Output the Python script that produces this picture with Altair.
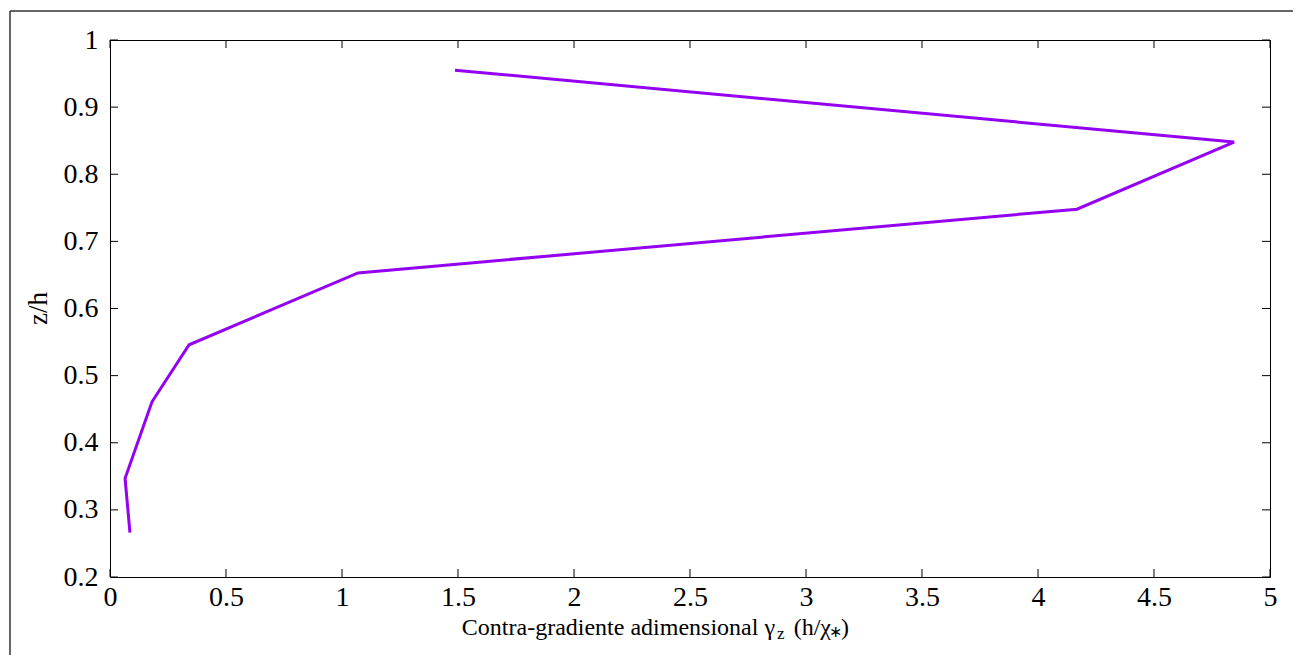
import altair as alt
import pandas as pd

# data
gamma_z = [1.487, 4.845, 4.168, 1.069, 0.341, 0.181, 0.065, 0.086]
z_h = [0.955, 0.848, 0.748, 0.653, 0.546, 0.461, 0.347, 0.266]
x_ticks = [0, 0.5, 1, 1.5, 2, 2.5, 3, 3.5, 4, 4.5, 5]
y_ticks = [0.2, 0.3, 0.4, 0.5, 0.6, 0.7, 0.8, 0.9, 1.0]

W, H = 1160, 537
FONT = "Liberation Serif"
FS = 24
LFS = 28
LINE_COLOR = "#9400F2"

df = pd.DataFrame({"x": gamma_z, "y": z_h, "i": list(range(len(z_h)))})
dfx = pd.DataFrame({"t": x_ticks})
dfy = pd.DataFrame({"t": y_ticks})
one = pd.DataFrame({"a": [0]})

xs = alt.Scale(domain=[0, 5], nice=False, zero=False)
ys = alt.Scale(domain=[0.2, 1.0], nice=False, zero=False)

xaxis = alt.Axis(values=x_ticks, format="~g", ticks=False, domain=False, grid=False,
                 labelFont=FONT, labelFontSize=LFS, labelColor="black", labelPadding=6,
                 labelFlush=False, labelOverlap=False, title=None)
yaxis = alt.Axis(values=y_ticks, format="~g", ticks=False, domain=False, grid=False,
                 labelFont=FONT, labelFontSize=LFS, labelColor="black", labelPadding=12,
                 labelFlush=False, labelOverlap=False, title=None)

line = alt.Chart(df).mark_line(color=LINE_COLOR, strokeWidth=3).encode(
    x=alt.X("x:Q", scale=xs, axis=xaxis),
    y=alt.Y("y:Q", scale=ys, axis=yaxis),
    order="i:O",
)

tk = dict(color="black", strokeWidth=1)
tb = alt.Chart(dfx).mark_rule(**tk).encode(x=alt.X("t:Q", scale=xs), y=alt.value(H), y2=alt.value(H - 8))
tt = alt.Chart(dfx).mark_rule(**tk).encode(x=alt.X("t:Q", scale=xs), y=alt.value(0), y2=alt.value(8))
tl = alt.Chart(dfy).mark_rule(**tk).encode(y=alt.Y("t:Q", scale=ys), x=alt.value(0), x2=alt.value(8))
tr = alt.Chart(dfy).mark_rule(**tk).encode(y=alt.Y("t:Q", scale=ys), x=alt.value(W), x2=alt.value(W - 8))

frame_c = "#333333"
ft = alt.Chart(one).mark_rule(color=frame_c, strokeWidth=1.5).encode(
    x=alt.value(-100), x2=alt.value(1200), y=alt.value(-29))
fl = alt.Chart(one).mark_rule(color=frame_c, strokeWidth=1.5).encode(
    x=alt.value(-100), y=alt.value(-29), y2=alt.value(700))

txt = dict(font=FONT, color="black", baseline="alphabetic")
t_main = alt.Chart(one).mark_text(fontSize=FS, align="right", **txt).encode(
    x=alt.value(665), y=alt.value(595), text=alt.value("Contra-gradiente adimensional γ"))
t_z = alt.Chart(one).mark_text(fontSize=17, align="left", **txt).encode(
    x=alt.value(667), y=alt.value(599), text=alt.value("z"))
t_h = alt.Chart(one).mark_text(fontSize=FS, align="right", **txt).encode(
    x=alt.value(721), y=alt.value(595), text=alt.value("(h/χ"))
t_star = alt.Chart(one).mark_text(fontSize=16, align="right", **txt).encode(
    x=alt.value(732), y=alt.value(597), text=alt.value("∗"))
t_close = alt.Chart(one).mark_text(fontSize=FS, align="right", **txt).encode(
    x=alt.value(739), y=alt.value(595), text=alt.value(")"))
t_y = alt.Chart(one).mark_text(fontSize=27, font=FONT, color="black", align="center",
                               baseline="middle", angle=270).encode(
    x=alt.value(-71), y=alt.value(H / 2), text=alt.value("z/h"))

chart = alt.layer(line, tb, tt, tl, tr, ft, fl, t_main, t_z, t_h, t_star, t_close, t_y).properties(
    width=W, height=H,
    autosize=alt.AutoSizeParams(type="none"),
    padding={"left": 102, "top": 32, "right": 23, "bottom": 78},
    background="white",
).configure_view(stroke="black", strokeWidth=1).configure_axis(
    labelFont=FONT, labelFontSize=LFS, labelColor="black"
)

chart.save("out.html", embed_options={"renderer": "svg", "actions": False})
